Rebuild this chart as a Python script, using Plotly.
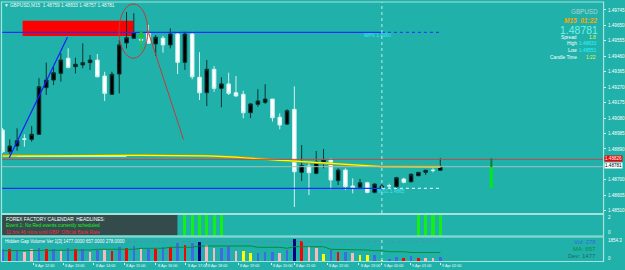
import plotly.graph_objects as go

W, H = 625, 270
BG = "#20b2aa"
FONT = "Liberation Sans"

# ---------------- data ----------------
bars = list(range(61))
opens = [1.49007, 1.48873, 1.48908, 1.48952, 1.48949, 1.48980, 1.49267, 1.49314, 1.49355, 1.49448,
         1.49396, 1.49407, 1.49421, 1.49437, 1.49339, 1.49226, 1.49351, 1.49542, 1.49571, 1.49563,
         1.49605, 1.49536, 1.49571, 1.49530, 1.49597, 1.49423, 1.49597, 1.49331, 1.49236, 1.49380,
         1.49263, 1.49290, 1.49236, 1.49226, 1.49113, 1.49165, 1.49177, 1.49197, 1.49085, 1.49043,
         1.49134, 1.48746, 1.48785, 1.48740, 1.48808, 1.48822, 1.48695, 1.48760, 1.48662, 1.48654,
         1.48682, 1.48623, 1.48648, 1.48664, 1.48658, 1.48705, 1.48688, 1.48725, 1.48746, 1.48759,
         1.48759]
highs = [1.49019, 1.48949, 1.49017, 1.48980, 1.49031, 1.49325, 1.49421, 1.49396, 1.49479, 1.49509,
         1.49451, 1.49540, 1.49468, 1.49474, 1.49365, 1.49365, 1.49560, 1.49733, 1.49725, 1.49585,
         1.49653, 1.49591, 1.49585, 1.49632, 1.49611, 1.49611, 1.49611, 1.49485, 1.49437, 1.49400,
         1.49331, 1.49359, 1.49339, 1.49248, 1.49171, 1.49257, 1.49288, 1.49197, 1.49109, 1.49134,
         1.49275, 1.48914, 1.48805, 1.48877, 1.48890, 1.48832, 1.48771, 1.48771, 1.48709, 1.48705,
         1.48688, 1.48679, 1.48674, 1.48676, 1.48719, 1.48713, 1.48740, 1.48748, 1.48761, 1.48771,
         1.48833]
lows = [1.48865, 1.48842, 1.48879, 1.48904, 1.48935, 1.48976, 1.49222, 1.49283, 1.49304, 1.49386,
        1.49355, 1.49386, 1.49376, 1.49331, 1.49185, 1.49222, 1.49232, 1.49509, 1.49567, 1.49536,
        1.49540, 1.49462, 1.49482, 1.49509, 1.49351, 1.49376, 1.49319, 1.49191, 1.49154, 1.49242,
        1.49146, 1.49222, 1.49211, 1.49079, 1.49079, 1.49150, 1.49167, 1.49058, 1.49011, 1.49037,
        1.48533, 1.48693, 1.48606, 1.48734, 1.48771, 1.48642, 1.48668, 1.48637, 1.48617, 1.48643,
        1.48617, 1.48617, 1.48637, 1.48648, 1.48648, 1.48679, 1.48685, 1.48723, 1.48730, 1.48746,
        1.48757]
closes = [1.48873, 1.48908, 1.48941, 1.48950, 1.48980, 1.49273, 1.49314, 1.49359, 1.49437, 1.49392,
          1.49411, 1.49421, 1.49437, 1.49334, 1.49232, 1.49349, 1.49530, 1.49574, 1.49605, 1.49560,
          1.49540, 1.49577, 1.49530, 1.49597, 1.49423, 1.49597, 1.49334, 1.49236, 1.49380, 1.49263,
          1.49290, 1.49232, 1.49216, 1.49113, 1.49167, 1.49185, 1.49197, 1.49082, 1.49037, 1.49125,
          1.48750, 1.48787, 1.48744, 1.48812, 1.48822, 1.48699, 1.48760, 1.48658, 1.48652, 1.48682,
          1.48623, 1.48674, 1.48662, 1.48663, 1.48713, 1.48685, 1.48734, 1.48746, 1.48759, 1.48758,
          1.48781]

ma_yellow = [1.48846, 1.48846, 1.48847, 1.48847, 1.48847, 1.48847, 1.48847, 1.48847, 1.48847, 1.48847,
             1.48847, 1.48847, 1.48848, 1.48848, 1.48848, 1.48849, 1.48849, 1.48850, 1.48850, 1.48851,
             1.48851, 1.48852, 1.48852, 1.48852, 1.48852, 1.48851, 1.48850, 1.48849, 1.48848, 1.48846,
             1.48845, 1.48843, 1.48840, 1.48836, 1.48832, 1.48829, 1.48825, 1.48822, 1.48820, 1.48818,
             1.48815, 1.48811, 1.48808, 1.48805, 1.48802, 1.48799, 1.48796, 1.48793, 1.48790, 1.48787,
             1.48785, 1.48783, 1.48781, 1.48781, 1.48780, 1.48780, 1.48780, 1.48780, 1.48780, 1.48780,
             1.48780]
ma_olive = [1.48852, 1.48851, 1.48849, 1.48848, 1.48847, 1.48847, 1.48847, 1.48847, 1.48847, 1.48847,
            1.48847, 1.48848, 1.48849, 1.48850, 1.48851, 1.48852, 1.48853, 1.48854, 1.48854, 1.48854,
            1.48853, 1.48852, 1.48852, 1.48852, 1.48851, 1.48850, 1.48849, 1.48848, 1.48847, 1.48846,
            1.48845, 1.48844, 1.48841, 1.48838, 1.48834, 1.48830, 1.48826, 1.48823, 1.48821, 1.48818,
            1.48815, 1.48811, 1.48808, 1.48805, 1.48802, 1.48799, 1.48796, 1.48793, 1.48790, 1.48788,
            1.48786, 1.48784, 1.48782, 1.48782, 1.48782, 1.48782, 1.48782, 1.48782, 1.48782, 1.48782,
            1.48782]
cyan_bars = [2, 3, 4, 5, 6, 7, 8, 9, 10, 11, 12, 13, 14, 15, 16, 17]
ma_cyan = [1.48844, 1.48844, 1.48844, 1.48844, 1.48844, 1.48844, 1.48844, 1.48844,
           1.48844, 1.48844, 1.48844, 1.48844, 1.48844, 1.48844, 1.48844, 1.48844]

pivot_top = 1.49607
pivot_bottom = 1.48648
pivot_split_bar = 52
last_bar = 60
red_level = 1.48826
bid = 1.48781

rect_bars = [2.76, 17.96]
rect_prices = [1.49585, 1.49679]
blue_trend_bars = [0.93, 8.9]
blue_trend_prices = [1.48836, 1.49577]
red_trend_bars = [19.9, 24.8]
red_trend_prices = [1.49621, 1.48949]
ellipse_bars = [15.96, 19.92]
ellipse_prices = [1.49448, 1.49782]
arrow_bar = 19
arrow_price = 1.49621
signal_bar = 67
signal_dark = [1.48832, 1.48779]
signal_green = [1.48779, 1.48648]

# 1.48795 sits behind the bid label in the reference, so it is not drawn
price_ticks = [1.48510, 1.48605, 1.48700, 1.48890, 1.48985, 1.49080,
               1.49175, 1.49270, 1.49365, 1.49460, 1.49555, 1.49650, 1.49745]

volumes = [904, 904, 850, 673, 904, 1028, 904, 904, 773, 982,
           904, 904, 719, 850, 850, 773, 1105, 1028, 1160, 904,
           904, 904, 1059, 1059, 1415, 1237, 1415, 1492, 1237, 1028,
           1028, 1160, 796, 773, 642, 642, 673, 673, 642, 850,
           1701, 1546, 1160, 982, 541, 850, 673, 673, 642, 464,
           464, 464, 77, 131, 286, 209, 387, 255, 209, 209,
           278]
vol_colors = ["blue", "red", "blue", "pink", "pink", "blue", "red", "blue", "pink", "blue",
              "red", "blue", "pink", "blue", "pink", "red", "blue", "red", "blue", "pink",
              "blue", "red", "blue", "red", "blue", "red", "blue", "navy", "pink", "pink",
              "blue", "blue", "pink", "yellow", "yellow", "blue", "blue", "blue", "pink", "blue",
              "navy", "red", "pink", "pink", "yellow", "blue", "red", "blue", "pink", "yellow",
              "yellow", "blue", "yellow", "blue", "blue", "red", "blue", "red", "pink", "pink",
              "blue"]
vol_ma = [796, 796, 796, 796, 796, 850, 850, 850, 850, 850,
          850, 850, 850, 904, 904, 904, 904, 904, 904, 982,
          982, 982, 982, 1059, 1059, 1059, 1059, 1160, 1160, 1160,
          1160, 1160, 1160, 1160, 1160, 1059, 1059, 1059, 1059, 982,
          1105, 1105, 1105, 1105, 1105, 904, 904, 904, 850, 850,
          850, 796, 796, 719, 719, 719, 657, 657, 657, 657,
          657]
vol_dev = [None, None, None, None, 1500, 1500, 1500, 1500, 1500, 1500,
           1500, 1500, 1500, 1500, 1500, 1500, 1500, 1500, 1500, 1500,
           1500, 1500, 1500, 1500, 1500, 1500, 1500, 1500, 1500, 1500,
           1500, 1500, 1500, 1500, 1500, 1500, 1500, 1500, 1500, 1500,
           1477, 1477, 1477, 1477, 1477, 1477, 1477, 1477, 1477, 1477,
           1477, 1477, 1477, 1477, 1477, 1477, 1477, 1477, 1477, 1477,
           1477]
vol_max = 1854.3

calendar_bars = [25, 26, 27, 28, 29, 30, 57, 58, 59, 60]

time_labels = ["8 Apr 2015", "8 Apr 12:00", "8 Apr 13:00", "8 Apr 14:00", "8 Apr 15:00",
               "8 Apr 16:00", "8 Apr 17:00", "8 Apr 18:00", "8 Apr 19:00", "8 Apr 20:00",
               "8 Apr 21:00", "8 Apr 22:00", "8 Apr 23:00", "9 Apr 00:00", "9 Apr 01:00",
               "9 Apr 02:00"]
time_label_bars = [-0.17, 4.2, 8.3, 12.5, 16.7, 21.0, 25.1, 27.9, 32.3, 36.8,
                   40.0, 44.5, 48.8, 52.0, 55.9, 60.0]

# ---------------- helpers ----------------
def px(x):
    return x / W


def py(y):
    return 1 - y / H


COLOR_MAP = {"blue": "#4169e1", "red": "#ff0000", "pink": "#ffb6c1",
             "navy": "#000080", "yellow": "#ffff00"}

fig = go.Figure()

# candles
fig.add_trace(go.Candlestick(
    x=bars, open=opens, high=highs, low=lows, close=closes,
    increasing=dict(line=dict(color="#0b3331", width=1), fillcolor="#000000"),
    decreasing=dict(line=dict(color="#d4f1ee", width=1), fillcolor="#ffffff"),
    whiskerwidth=0, hoverinfo="skip", showlegend=False))

# moving averages
fig.add_trace(go.Scatter(x=bars, y=ma_olive, mode="lines",
                         line=dict(color="#9d9d2c", width=2.4), hoverinfo="skip"))
fig.add_trace(go.Scatter(x=cyan_bars, y=ma_cyan, mode="lines",
                         line=dict(color="#b4f4ee", width=1), hoverinfo="skip"))
fig.add_trace(go.Scatter(x=bars, y=ma_yellow, mode="lines",
                         line=dict(color="#ffff00", width=1.2), hoverinfo="skip"))

# horizontal levels
fig.add_trace(go.Scatter(x=[-1, 90], y=[red_level, red_level], mode="lines",
                         line=dict(color="#c04848", width=1), hoverinfo="skip"))
fig.add_trace(go.Scatter(x=[-1, 90], y=[bid, bid], mode="lines",
                         line=dict(color="#a9bcbc", width=1), hoverinfo="skip"))

# pivot lines
for lvl, dotted_col in ((pivot_top, "#2040ff"), (pivot_bottom, "#d0e8ff")):
    fig.add_trace(go.Scatter(x=[-1, pivot_split_bar], y=[lvl, lvl], mode="lines",
                             line=dict(color="#1530ff", width=1.2), hoverinfo="skip"))
    fig.add_trace(go.Scatter(x=[pivot_split_bar, last_bar], y=[lvl, lvl], mode="lines",
                             line=dict(color=dotted_col, width=1.2, dash="dot"),
                             hoverinfo="skip"))

# trend lines
fig.add_trace(go.Scatter(x=blue_trend_bars, y=blue_trend_prices, mode="lines",
                         line=dict(color="#1a1aff", width=1.2), hoverinfo="skip"))
fig.add_trace(go.Scatter(x=red_trend_bars, y=red_trend_prices, mode="lines",
                         line=dict(color="#c03c3c", width=1), hoverinfo="skip"))

# future signal bar
fig.add_trace(go.Scatter(x=[signal_bar, signal_bar], y=signal_dark, mode="lines",
                         line=dict(color="#127a3a", width=2), hoverinfo="skip"))
fig.add_trace(go.Scatter(x=[signal_bar, signal_bar], y=signal_green, mode="lines",
                         line=dict(color="#00e81a", width=3), hoverinfo="skip"))

# calendar panel bars
fig.add_trace(go.Bar(x=calendar_bars, y=[2.7] * len(calendar_bars), base=-0.3,
                     width=0.42, marker=dict(color="#14f014", line=dict(width=0)),
                     yaxis="y2", hoverinfo="skip"))

# volume panel
fig.add_trace(go.Bar(x=bars, y=volumes, width=0.36,
                     marker=dict(color=[COLOR_MAP[c] for c in vol_colors], line=dict(width=0)),
                     yaxis="y3", hoverinfo="skip"))
fig.add_trace(go.Scatter(x=bars, y=vol_ma, mode="lines", yaxis="y3",
                         line=dict(color="#0d8a3a", width=1), hoverinfo="skip"))
fig.add_trace(go.Scatter(x=bars, y=vol_dev, mode="lines", yaxis="y3",
                         line=dict(color="#5f88aa", width=1, dash="dot"), hoverinfo="skip"))

# ---------------- shapes ----------------
BORDER = "#a6e2dc"
shapes = [
    dict(type="rect", xref="x", yref="y", x0=rect_bars[0], x1=rect_bars[1],
         y0=rect_prices[0], y1=rect_prices[1], fillcolor="#ff0000",
         line=dict(width=0), layer="below"),
    dict(type="circle", xref="x", yref="y", x0=ellipse_bars[0], x1=ellipse_bars[1],
         y0=ellipse_prices[0], y1=ellipse_prices[1], line=dict(color="#c23a3a", width=1)),
    dict(type="rect", xref="paper", yref="paper", x0=px(2), x1=px(178),
         y0=py(235.3), y1=py(214.5), fillcolor="#334b4b", line=dict(width=0)),
    dict(type="line", xref="x", yref="paper", x0=pivot_split_bar, x1=pivot_split_bar,
         y0=py(213), y1=py(2), line=dict(color="#bfeeea", width=1, dash="dot")),
    dict(type="line", xref="x", yref="paper", x0=pivot_split_bar, x1=pivot_split_bar,
         y0=py(261), y1=py(237.5), line=dict(color="#bfeeea", width=1, dash="dot")),
]
for (t, b) in ((2, 213.5), (214.5, 236), (237, 261.5)):
    shapes.append(dict(type="rect", xref="paper", yref="paper", x0=px(1.5), x1=px(605.5),
                       y0=py(b), y1=py(t), line=dict(color=BORDER, width=1.2)))

# ---------------- annotations ----------------
ann = []


def text(x, y, s, size=4.8, color="#ffffff", anchor="left", xref="paper", bg=None):
    d = dict(x=x if xref != "paper" else px(x), y=py(y), xref=xref, yref="paper", text=s,
             showarrow=False, xanchor=anchor, yanchor="middle",
             font=dict(family=FONT, size=size, color=color))
    if bg:
        d.update(bgcolor=bg, borderpad=0)
    ann.append(d)


text(2.5, 5.2, "\u25bc GBPUSD,M15  1.48759 1.48833 1.48757 1.48781", 4.7, "#eef6f6")

text(602, 11, "GBPUSD", 6.3, "#b9d0cf", "right")
text(601, 20.5, "<b><i>M15  01:22</i></b>", 6.5, "#ffa200", "right")
text(602, 30, "1.48781", 10.5, "#6ef3ec", "right")
text(581, 37.3, "Spread", 4.8, "#ffffff", "right")
text(600, 37.3, "1.8", 4.8, "#f4f43c", "right")
text(581, 43.7, "High", 4.8, "#ffffff", "right")
text(601, 43.7, "1.48833", 4.8, "#2ef2ff", "right")
text(581, 50.7, "Low", 4.8, "#ffffff", "right")
text(601, 50.7, "1.48551", 4.8, "#2ef2ff", "right")
text(581, 57.3, "Candle Time", 4.8, "#ffffff", "right")
text(600, 57.3, "1:22", 4.8, "#f4f43c", "right")

text(363, 35.8, "WPV 1.4960", 4.8, "#3ce6f2")
text(377, 191.8, "WS1 1.4865", 4.8, "#3ce6f2")

text(4, 219.2, "FOREX FACTORY CALENDAR  HEADLINES:", 4.8, "#ffffff")
text(4, 225.8, "Event 1: No Red events currently scheduled", 4.8, "#22f022")
text(4, 232.3, "11 hrs 46 mins until GBP: Official Bank Rate", 4.8, "#ee2f3f")

text(3, 241, "Hidden Gap Volume Ver 1[3] 1477.0000 657.0000 278.0000", 4.5, "#ffffff")
text(600, 242.3, "Vol: 278", 6, "#3a66dd", "right")
text(600, 249.2, "MA: 657", 6, "#0c8a32", "right")
text(600, 256.2, "Dev: 1477", 6, "#1b6a66", "right")

text(607.5, 217, "2", 4.5)
text(607.5, 232.7, "0", 4.5)
text(607.5, 240, "1854.3", 4.5)
text(607.5, 258.3, "0", 4.5)

text(606, 158.9, "1.48826", 4.6, "#ffffff", bg="#ee0000")
text(606, 165.9, "1.48781", 4.6, "#000000", bg="#ffffff")

for lbl, b in zip(time_labels, time_label_bars):
    text(b, 265.7, lbl, 3.8, "#f2f8f8", "left", xref="x")

ann.append(dict(x=arrow_bar, y=arrow_price, xref="x", yref="y", text="", showarrow=True,
                ax=0, ay=22, arrowhead=2, arrowsize=1, arrowwidth=1.5, arrowcolor="#1fbf3f"))

# ---------------- layout ----------------
fig.update_layout(
    width=W, height=H, margin=dict(l=0, r=0, t=0, b=0),
    paper_bgcolor=BG, plot_bgcolor=BG, showlegend=False,
    font=dict(family=FONT, color="#ffffff"),
    xaxis=dict(domain=[px(2), px(605)], range=[-0.068, 82.31], anchor="y3",
               showgrid=False, zeroline=False, showticklabels=False,
               tickvals=time_label_bars, ticks="outside", ticklen=2, tickcolor="#e8f4f4",
               rangeslider=dict(visible=False), fixedrange=True),
    yaxis=dict(domain=[py(213.5), py(2)], range=[1.48493, 1.49794], side="right",
               anchor="x", showgrid=False, zeroline=False, tickvals=price_ticks,
               ticktext=[f"{v:.5f}" for v in price_ticks], ticks="outside", ticklen=2,
               tickcolor="#e8f4f4", tickfont=dict(size=4.6, color="#ffffff"),
               ticklabelstandoff=1),
    yaxis2=dict(domain=[py(236), py(214.5)], range=[-0.375, 2.375], anchor="x",
                showgrid=False, zeroline=False, showticklabels=False),
    yaxis3=dict(domain=[py(261.5), py(237)], range=[-38.6, vol_max], anchor="x",
                showgrid=False, zeroline=False, showticklabels=False),
    shapes=shapes, annotations=ann, bargap=0,
)

fig.write_html("out.html")
